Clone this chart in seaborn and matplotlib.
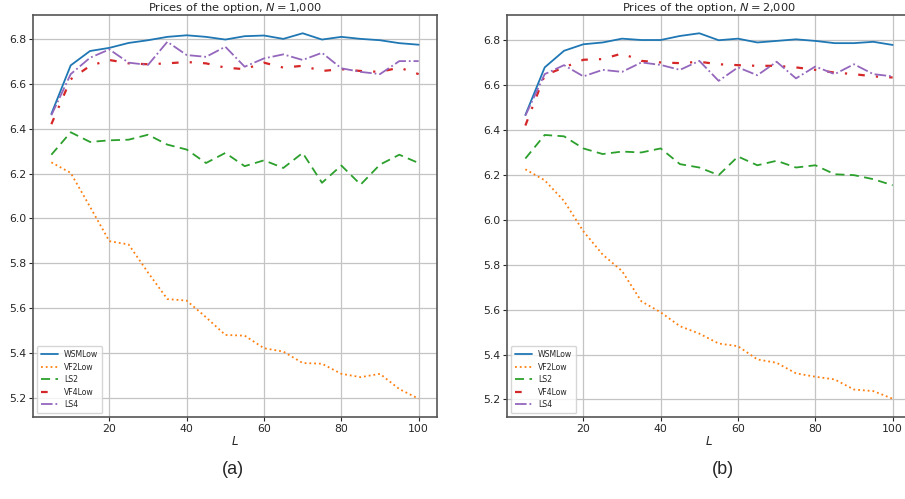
import numpy as np
import pandas as pd
import matplotlib
matplotlib.use("Agg")
import matplotlib.pyplot as plt
import seaborn as sns

L = [5, 10, 15, 20, 25, 30, 35, 40, 45, 50, 55, 60, 65, 70, 75, 80, 85, 90, 95, 100]

# Panel (a): N = 1,000
wsm_a = [6.466, 6.682, 6.746, 6.760, 6.782, 6.794, 6.809, 6.816, 6.809, 6.797,
         6.812, 6.815, 6.800, 6.825, 6.797, 6.809, 6.800, 6.794, 6.781, 6.774]
vf2_a = [6.250, 6.203, 6.052, 5.899, 5.884, 5.759, 5.641, 5.634, 5.560, 5.481,
         5.478, 5.422, 5.407, 5.356, 5.353, 5.308, 5.293, 5.308, 5.240, 5.197]
ls2_a = [6.284, 6.384, 6.341, 6.348, 6.351, 6.373, 6.329, 6.307, 6.247, 6.292,
         6.233, 6.259, 6.225, 6.292, 6.159, 6.236, 6.151, 6.240, 6.284, 6.247]
vf4_a = [6.420, 6.620, 6.680, 6.706, 6.691, 6.687, 6.691, 6.697, 6.691, 6.672,
         6.665, 6.694, 6.672, 6.680, 6.657, 6.665, 6.657, 6.653, 6.672, 6.643]
ls4_a = [6.460, 6.643, 6.716, 6.753, 6.694, 6.684, 6.787, 6.728, 6.720, 6.765,
         6.676, 6.713, 6.731, 6.706, 6.738, 6.669, 6.653, 6.643, 6.701, 6.701]

# Panel (b): N = 2,000
wsm_b = [6.467, 6.679, 6.753, 6.782, 6.790, 6.807, 6.801, 6.801, 6.819, 6.831,
         6.800, 6.807, 6.790, 6.797, 6.804, 6.797, 6.787, 6.787, 6.793, 6.779]
vf2_b = [6.225, 6.176, 6.084, 5.949, 5.845, 5.772, 5.637, 5.588, 5.526, 5.493,
         5.449, 5.437, 5.378, 5.363, 5.316, 5.301, 5.289, 5.244, 5.237, 5.203]
ls2_b = [6.273, 6.378, 6.372, 6.318, 6.293, 6.304, 6.300, 6.318, 6.248, 6.233,
         6.199, 6.282, 6.243, 6.263, 6.233, 6.243, 6.203, 6.199, 6.181, 6.154]
vf4_b = [6.420, 6.644, 6.679, 6.713, 6.716, 6.741, 6.708, 6.701, 6.698, 6.704,
         6.693, 6.689, 6.686, 6.686, 6.679, 6.668, 6.656, 6.649, 6.639, 6.634]
ls4_b = [6.464, 6.649, 6.689, 6.639, 6.668, 6.659, 6.701, 6.690, 6.668, 6.708,
         6.619, 6.679, 6.644, 6.704, 6.630, 6.683, 6.649, 6.693, 6.649, 6.639]

methods = ["WSMLow", "VF2Low", "LS2", "VF4Low", "LS4"]
titles = ["Prices of the option, $N = 1{,}000$", "Prices of the option, $N = 2{,}000$"]
panel_labels = ["(a)", "(b)"]
label_x = [233, 723]

colors = ["#1f77b4", "#ff7f0e", "#2ca02c", "#d62728", "#9467bd"]
styles = ["-", ":", (0, (5, 3)), (0, (3, 5, 1, 5)), "-."]

sns.set_theme(style="ticks")
plt.rcParams["font.family"] = ["DejaVu Sans"]

fig = plt.figure(figsize=(9.05, 4.99), dpi=100)
positions = [[33 / 905, 1 - 417 / 499, 404 / 905, 402 / 499],
             [507 / 905, 1 - 417 / 499, 404 / 905, 402 / 499]]

panels = [[wsm_a, vf2_a, ls2_a, vf4_a, ls4_a], [wsm_b, vf2_b, ls2_b, vf4_b, ls4_b]]

for i, series in enumerate(panels):
    ax = fig.add_axes(positions[i])
    for name, vals, c, ls in zip(methods, series, colors, styles):
        lw = 1.6 if name == "VF4Low" else 1.3
        sns.lineplot(x=L, y=vals, ax=ax, color=c, linestyle=ls, linewidth=lw, label=name)
    ax.grid(True, color="#c4c4c4", linewidth=0.9)
    ax.set_xticks([20, 40, 60, 80, 100])
    ax.set_yticks([5.2, 5.4, 5.6, 5.8, 6.0, 6.2, 6.4, 6.6, 6.8])
    ax.tick_params(labelsize=7.8, length=3, width=0.8, pad=2)
    for s in ax.spines.values():
        s.set_color("#555555")
        s.set_linewidth(1.2)
    ax.set_title(titles[i], fontsize=8.2, pad=1.5)
    ax.set_xlabel("$L$", fontsize=8.5, labelpad=1)
    ax.set_ylabel("")
    leg = ax.legend(loc="lower left", fontsize=5.6, frameon=True, handlelength=2.2,
                    borderpad=0.5, labelspacing=0.45, fancybox=True)
    leg.get_frame().set_edgecolor("#cccccc")
    fig.text(label_x[i] / 905, 1 - 470 / 499, panel_labels[i], fontsize=13, ha="center",
             va="center", family=["Liberation Sans", "DejaVu Sans"])

fig.savefig("out.png", dpi=100)
